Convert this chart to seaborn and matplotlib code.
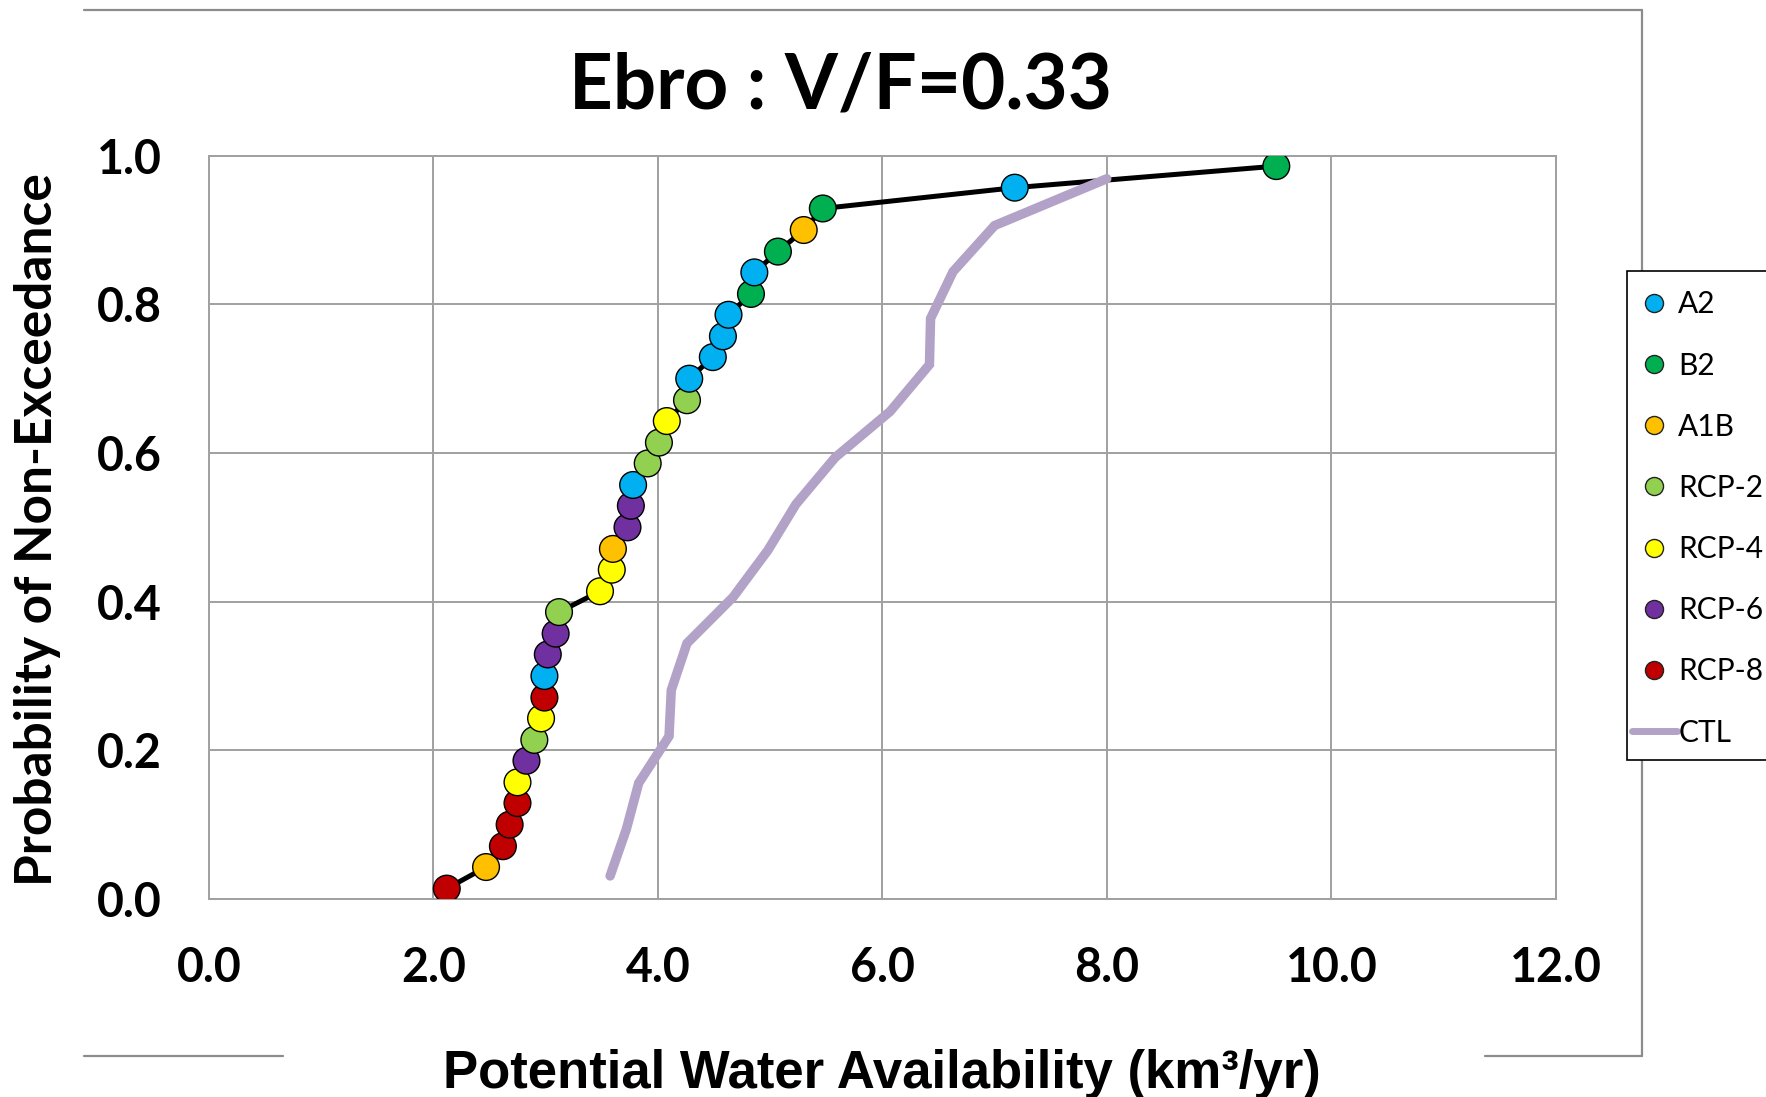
import matplotlib
matplotlib.use("Agg")
import matplotlib.pyplot as plt
from matplotlib.lines import Line2D
from matplotlib.patches import Rectangle
from matplotlib.ticker import FormatStrFormatter
import numpy as np
import pandas as pd
import seaborn as sns

# Ranked potential water availability of the climate projections (km3/yr)
water = [2.12, 2.47, 2.62, 2.68, 2.75, 2.75, 2.83, 2.90, 2.96, 2.99,
         2.99, 3.02, 3.09, 3.12, 3.485, 3.59, 3.60, 3.73, 3.76, 3.78,
         3.91, 4.01, 4.08, 4.26, 4.28, 4.49, 4.58, 4.63, 4.83, 4.86,
         5.07, 5.30, 5.47, 7.18, 9.51]
# Probability of non-exceedance of each ranked projection
prob = [0.014, 0.043, 0.071, 0.100, 0.129, 0.157, 0.186, 0.214, 0.243, 0.271,
        0.300, 0.329, 0.357, 0.386, 0.414, 0.443, 0.471, 0.500, 0.529, 0.557,
        0.586, 0.614, 0.643, 0.671, 0.700, 0.729, 0.757, 0.786, 0.814, 0.843,
        0.871, 0.900, 0.929, 0.957, 0.986]
scenario = ["RCP-8", "A1B", "RCP-8", "RCP-8", "RCP-8", "RCP-4", "RCP-6", "RCP-2", "RCP-4", "RCP-8",
            "A2", "RCP-6", "RCP-6", "RCP-2", "RCP-4", "RCP-4", "A1B", "RCP-6", "RCP-6", "A2",
            "RCP-2", "RCP-2", "RCP-4", "RCP-2", "A2", "A2", "A2", "A2", "B2", "A2",
            "B2", "A1B", "B2", "A2", "B2"]

# Control run distribution
ctl_water = [3.575, 3.72, 3.83, 4.10, 4.12, 4.26, 4.67, 4.98, 5.23, 5.58,
             6.07, 6.42, 6.43, 6.63, 7.00, 8.00]
ctl_prob = [0.031, 0.094, 0.156, 0.219, 0.281, 0.344, 0.406, 0.469, 0.531, 0.594,
            0.656, 0.719, 0.781, 0.844, 0.906, 0.969]

scenario_order = ["A2", "B2", "A1B", "RCP-2", "RCP-4", "RCP-6", "RCP-8"]
scenario_colors = ["#00B0F0", "#00B050", "#FFC000", "#92D050", "#FFFF00", "#7030A0", "#C00000"]
ctl_color = "#B3A2C7"
grid_color = "#A0A0A0"

x_ticks = [0.0, 2.0, 4.0, 6.0, 8.0, 10.0, 12.0]
y_ticks = [0.0, 0.2, 0.4, 0.6, 0.8, 1.0]

sns.set_style("white")
plt.rcParams["font.family"] = ["Lato", "DejaVu Sans"]
plt.rcParams["font.weight"] = "bold"
plt.rcParams["text.color"] = "black"
plt.rcParams["axes.labelcolor"] = "black"

df = pd.DataFrame({"water": water, "prob": prob, "scenario": scenario})
ctl = pd.DataFrame({"water": ctl_water, "prob": ctl_prob})
palette = dict(zip(scenario_order, scenario_colors))

W, H = 1766, 1097
fig = plt.figure(figsize=(W / 100, H / 100), dpi=100)
ax = fig.add_axes([208.8 / W, 1 - 899 / H, 1347 / W, 743.3 / H])

sns.lineplot(data=df, x="water", y="prob", estimator=None, sort=False,
             color="black", linewidth=3.6, ax=ax, zorder=2)
sns.lineplot(data=ctl, x="water", y="prob", estimator=None, sort=False,
             color=ctl_color, linewidth=6.8, ax=ax, zorder=3,
             solid_capstyle="round", solid_joinstyle="miter")
sns.scatterplot(data=df, x="water", y="prob", hue="scenario", hue_order=scenario_order,
                palette=palette, s=370, edgecolor="black", linewidth=1.0,
                legend=False, ax=ax, zorder=4)

ax.set_xlim(0, 12)
ax.set_ylim(0, 1)
ax.set_xticks(x_ticks)
ax.set_yticks(y_ticks)
ax.xaxis.set_major_formatter(FormatStrFormatter("%.1f"))
ax.yaxis.set_major_formatter(FormatStrFormatter("%.1f"))
ax.grid(True, color=grid_color, linewidth=1.4)
for side in ax.spines.values():
    side.set_color(grid_color)
    side.set_linewidth(1.4)
ax.tick_params(axis="both", direction="out", length=12, width=1.4, color=grid_color,
               labelsize=33.5, labelcolor="black")
ax.tick_params(axis="x", pad=22)
ax.tick_params(axis="y", pad=22)
for lbl in ax.get_xticklabels() + ax.get_yticklabels():
    lbl.set_fontweight("bold")

ax.set_xlabel("Potential Water Availability (km³/yr)", fontsize=38, fontweight="bold")
ax.xaxis.label.set_fontfamily(["Liberation Sans", "DejaVu Sans"])
ax.xaxis.set_label_coords(0.5, -0.2543)
ax.xaxis.label.set_va("baseline")
ax.set_ylabel("Probability of Non-Exceedance", fontsize=37, fontweight="bold")
ax.yaxis.set_label_coords(-0.1275, 0.497)
ax.yaxis.label.set_va("center")

fig.text(0.476, 1 - 109 / H, "Ebro : V/F=0.33", ha="center", va="baseline",
         fontsize=55, fontweight="bold", color="black")

# Chart area border (broken by the axis title at the bottom)
frame_kw = dict(color="#8C8C8C", linewidth=1.6, transform=fig.transFigure)
x_l, x_r = 84 / W, 1642 / W
y_t, y_b = 1 - 10 / H, 1 - 1055.5 / H
fig.add_artist(Line2D([x_l, x_r], [y_t, y_t], **frame_kw))
fig.add_artist(Line2D([x_r, x_r], [y_t, y_b], **frame_kw))
fig.add_artist(Line2D([x_l, 283 / W], [y_b, y_b], **frame_kw))
fig.add_artist(Line2D([1485 / W, x_r], [y_b, y_b], **frame_kw))

# Legend box, running off the right edge of the figure
fig.add_artist(Rectangle((1626.7 / W, 1 - 760 / H), 160 / W, 489.3 / H,
                         transform=fig.transFigure, facecolor="white",
                         edgecolor="black", linewidth=1.2, zorder=5))

handles = [Line2D([], [], marker="o", linestyle="", markersize=13,
                  markerfacecolor=c, markeredgecolor="#222222", markeredgewidth=1.0)
           for c in scenario_colors]
handles.append(Line2D([], [], color=ctl_color, linewidth=5))
labels = scenario_order + ["CTL"]
leg = fig.legend(handles, labels, loc="upper left",
                 bbox_to_anchor=(1632 / W, 1 - 290.5 / H), bbox_transform=fig.transFigure,
                 frameon=False,
                 prop={"family": ["Lato", "DejaVu Sans"], "size": 21.5, "weight": "normal"},
                 borderpad=0, labelspacing=1.11, handlelength=1.5,
                 handletextpad=0.05, borderaxespad=0)
leg.set_zorder(10)

fig.savefig("out.png", dpi=100, facecolor="white")
